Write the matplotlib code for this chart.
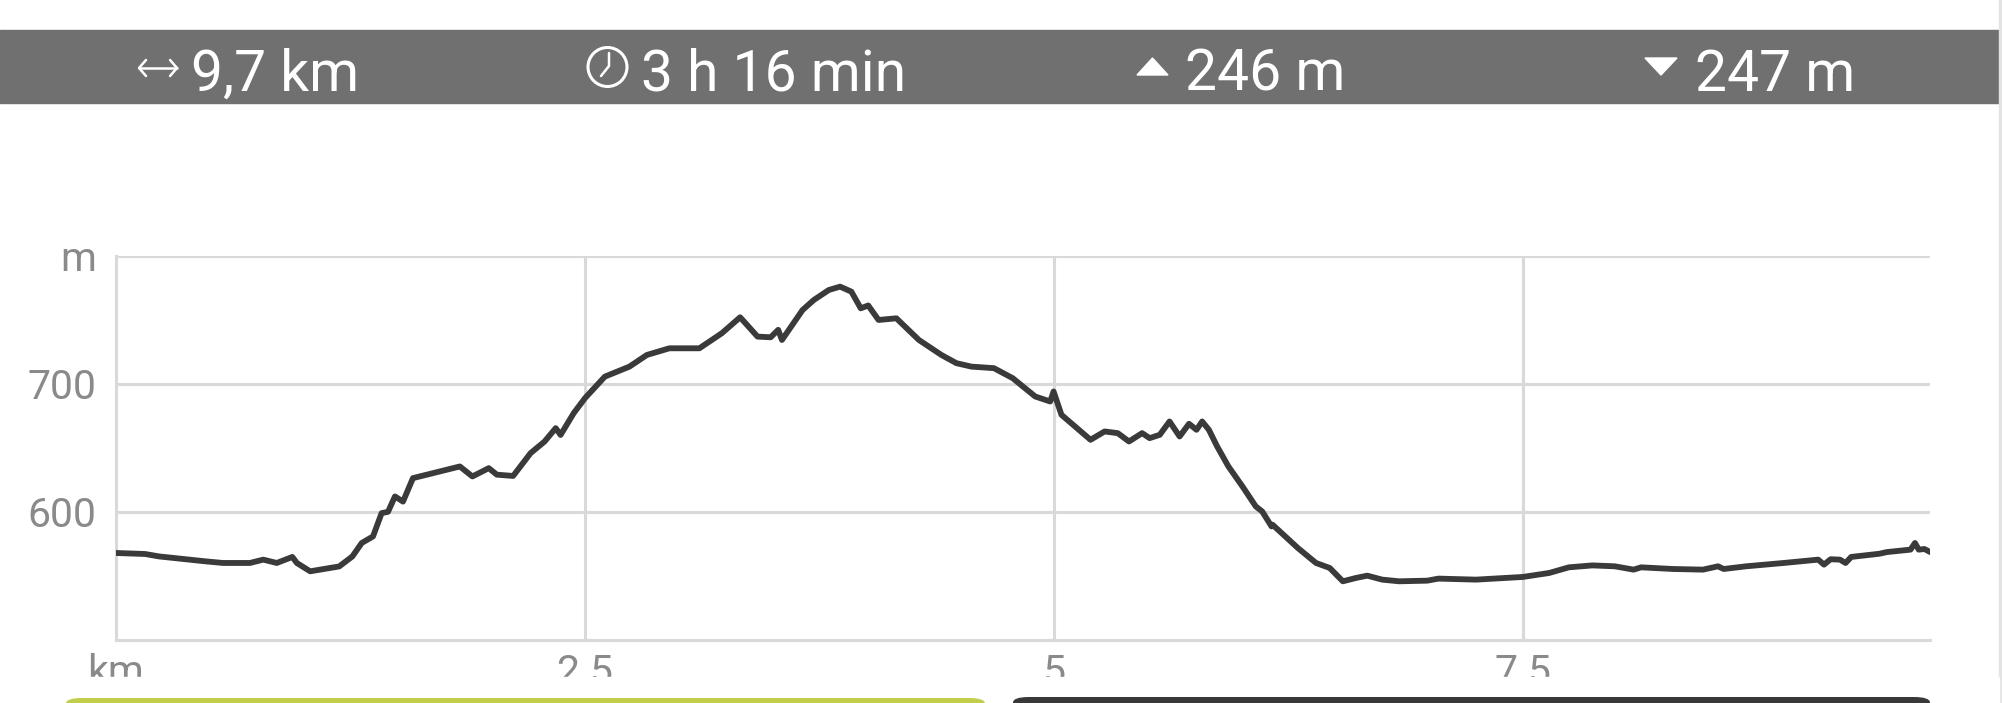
import matplotlib.pyplot as plt
from matplotlib.patches import Rectangle, Polygon, Ellipse, FancyBboxPatch
from matplotlib.lines import Line2D

# elevation profile (km, m)
dist_km = [0.00, 0.155, 0.23, 0.475, 0.57, 0.714, 0.785, 0.857, 0.94, 0.964, 1.035,
           1.19, 1.26, 1.31, 1.37, 1.416, 1.45, 1.487, 1.53, 1.583, 1.833, 1.90,
           1.987, 2.03, 2.117, 2.21, 2.285, 2.344, 2.37, 2.44, 2.50, 2.606, 2.737,
           2.83, 2.95, 3.11, 3.23, 3.327, 3.42, 3.49, 3.53, 3.55, 3.66, 3.72, 3.80,
           3.86, 3.92, 3.97, 4.01, 4.065, 4.16, 4.28, 4.40, 4.48, 4.56, 4.68, 4.78,
           4.90, 4.98, 4.998, 5.04, 5.195, 5.27, 5.34, 5.40, 5.47, 5.51, 5.564,
           5.616, 5.67, 5.72, 5.76, 5.79, 5.826, 5.87, 5.93, 6.005, 6.076, 6.11,
           6.16, 6.165, 6.30, 6.397, 6.47, 6.54, 6.61, 6.67, 6.75, 6.84, 6.99, 7.05,
           7.25, 7.50, 7.64, 7.745, 7.87, 7.99, 8.09, 8.13, 8.30, 8.46, 8.54, 8.57,
           8.69, 8.89, 9.074, 9.105, 9.14, 9.19, 9.22, 9.25, 9.40, 9.44, 9.566,
           9.59, 9.61, 9.64, 9.665]
elev_m = [567.9, 567.1, 565.2, 561.4, 560.1, 560.1, 562.7, 560.1, 564.8, 560.1, 553.6,
          557.4, 565.2, 575.7, 580.8, 599.0, 600.0, 612.0, 608.0, 626.3, 635.4, 627.6,
          634.1, 629.0, 628.0, 645.8, 654.9, 665.3, 660.0, 677.0, 688.7, 705.5, 713.3,
          722.4, 727.6, 727.6, 739.4, 751.8, 736.7, 736.2, 742.0, 734.1, 757.5, 765.3,
          773.1, 775.7, 771.8, 758.8, 761.0, 749.7, 751.0, 734.1, 722.4, 716.0, 713.3,
          712.1, 704.3, 690.0, 686.1, 693.9, 675.7, 656.2, 662.7, 661.4, 654.9, 661.4,
          657.5, 660.1, 670.5, 658.8, 668.7, 664.0, 670.5, 664.0, 651.0, 635.4, 619.8,
          604.2, 600.3, 588.6, 590.0, 571.8, 560.1, 556.2, 545.8, 548.4, 550.2, 547.1,
          545.8, 546.3, 547.9, 547.1, 549.2, 552.3, 556.7, 558.2, 557.5, 554.9, 556.7,
          555.4, 554.9, 557.5, 555.4, 557.5, 560.1, 562.7, 558.8, 563.0, 562.7, 560.1,
          564.8, 567.3, 568.6, 570.5, 575.7, 570.5, 571.0, 569.1]

x_ticks = [0, 2.5, 5, 7.5]
x_labels = ['km', '2.5', '5', '7.5']
y_ticks = [500, 600, 700, 800]
y_labels = ['', '600', '700', 'm']
header = ['9,7 km', '3 h 16 min', '246 m', '247 m']

W, H = 2002, 703
def fx(px): return px / W
def fy(py): return 1 - py / H

fig = plt.figure(figsize=(W / 100, H / 100), dpi=100)
fig.patch.set_facecolor('white')

grid_c = '#d9d9d9'
lab_c = '#8a8a8a'

ax = fig.add_axes([fx(116), fy(640), fx(1930) - fx(116), fy(255.5) - fy(640)])
ax.plot(dist_km, elev_m, color='#3a3a3a', lw=4.2, solid_joinstyle='round', zorder=3)
ax.set_xlim(0, 9.67)
ax.set_ylim(500, 800)
ax.set_xticks(x_ticks)
ax.set_xticklabels(x_labels)
ax.set_yticks(y_ticks)
ax.set_yticklabels(y_labels)
ax.grid(True, color=grid_c, lw=2.2)
for s in ['top', 'right']:
    ax.spines[s].set_visible(False)
for s in ['left', 'bottom']:
    ax.spines[s].set_color(grid_c)
    ax.spines[s].set_linewidth(2.2)
ax.tick_params(length=0, labelcolor=lab_c, labelsize=29.5)
ax.tick_params(axis='x', pad=9)
ax.tick_params(axis='y', pad=14)
for t in ax.get_xticklabels() + ax.get_yticklabels():
    t.set_fontfamily('Roboto')

# header bar
fig.patches.append(Rectangle((0, fy(103)), fx(1999), fy(30) - fy(103),
                             transform=fig.transFigure, color='#707070', zorder=1))
fig.patches.append(Rectangle((fx(1999), 0), 1 - fx(1999), 1,
                             transform=fig.transFigure, color='#e3e3e3', zorder=1))

tk = dict(color='white', fontsize=41, family='Roboto', va='baseline', zorder=6)
fig.text(fx(191), fy(90.7), header[0], **tk)
fig.text(fx(641), fy(90.7), header[1], **tk)
fig.text(fx(1185), fy(90.7), header[2], **tk)
fig.text(fx(1695), fy(90.7), header[3], **tk)

# double arrow
lk = dict(transform=fig.transFigure, color='white', lw=1.8, zorder=6,
          solid_capstyle='round')
fig.lines.append(Line2D([fx(139), fx(177)], [fy(68), fy(68)], **lk))
fig.lines.append(Line2D([fx(146), fx(139), fx(146)], [fy(60), fy(68), fy(76)], **lk))
fig.lines.append(Line2D([fx(170), fx(177), fx(170)], [fy(60), fy(68), fy(76)], **lk))

# clock
fig.patches.append(Ellipse((fx(607.5), fy(67)), 39 / W, 39 / H, transform=fig.transFigure,
                           fill=False, ec='white', lw=2.2, zorder=6))
fig.lines.append(Line2D([fx(609), fx(609), fx(601)], [fy(53), fy(66), fy(76)], **lk))

# up / down triangles
fig.patches.append(Polygon([(fx(1137), fy(75)), (fx(1168), fy(75)), (fx(1152.5), fy(58))],
                           transform=fig.transFigure, color='white', zorder=6))
fig.patches.append(Polygon([(fx(1645), fy(58)), (fx(1677), fy(58)), (fx(1661), fy(75))],
                           transform=fig.transFigure, color='white', zorder=6))

# white strip cutting x labels, then buttons
fig.patches.append(Rectangle((0, 0), fx(1999), fy(677), transform=fig.transFigure,
                             color='white', zorder=5))
fig.patches.append(FancyBboxPatch((fx(66), fy(730)), fx(985) - fx(66), fy(698) - fy(730),
                                  boxstyle='round,pad=0,rounding_size=0.008',
                                  transform=fig.transFigure, fc='#c3cd4c', ec='none',
                                  zorder=7))
fig.patches.append(FancyBboxPatch((fx(1013), fy(730)), fx(1930) - fx(1013), fy(697) - fy(730),
                                  boxstyle='round,pad=0,rounding_size=0.008',
                                  transform=fig.transFigure, fc='#383838', ec='none',
                                  zorder=7))

fig.savefig('out.png', dpi=100)
